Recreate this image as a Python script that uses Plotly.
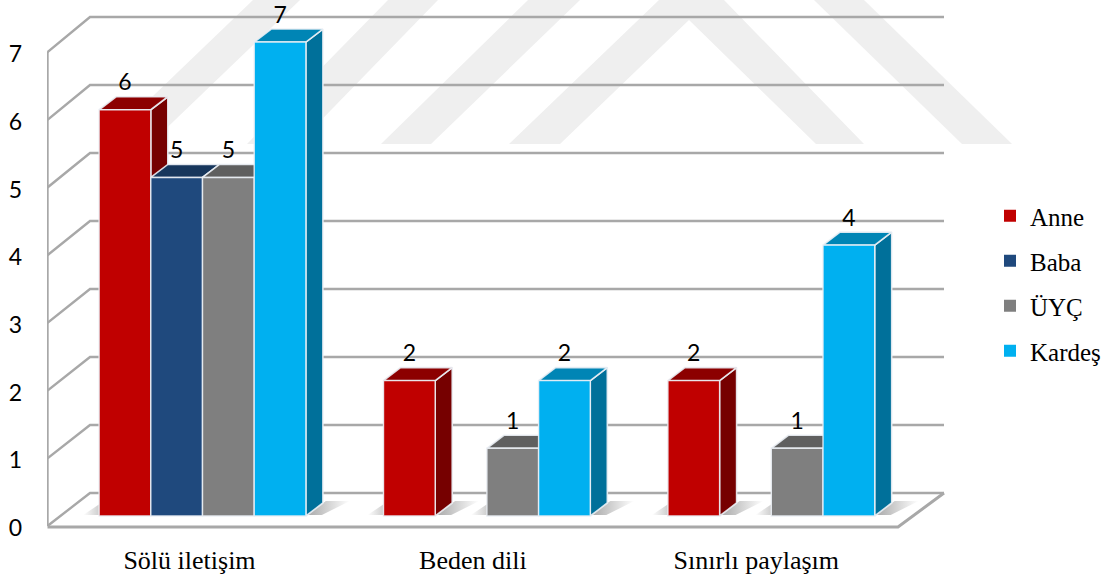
import plotly.graph_objects as go

categories = ["Sölü iletişim", "Beden dili", "Sınırlı paylaşım"]
series_names = ["Anne", "Baba", "ÜYÇ", "Kardeş"]
anne = [6, 2, 2]
baba = [5, None, None]
uyc = [5, 1, 1]
kardes = [7, 2, 4]
y_ticks = [0, 1, 2, 3, 4, 5, 6, 7]

series_values = [anne, baba, uyc, kardes]
front_cols = ["#C00000", "#1F497D", "#7F7F7F", "#00B0F0"]
side_cols = ["#760000", "#132D4E", "#4F4F4F", "#00709A"]
top_cols = ["#8C0000", "#17365C", "#5F5F5F", "#0085B5"]

# Layout geometry (pixels of the 1107x575 page)
W, H = 1107, 575
L, B = 47, 40
PLOT_BOTTOM = H - B
U = 67.71            # pixels per value unit
BAR_ZERO = 516       # pixel row of value 0 on the bar axis
LABEL_ZERO = 528     # pixel row of value 0 on the tick-label axis
STEP = 284.4
X0 = 202.5
BAR_W = 51.7
DEPTH_X, DEPTH_Y = 17, 13


def x_of(px):
    return (px - X0) / STEP


def y_of(py):
    return (LABEL_ZERO - py) / U


x_range = [x_of(L), x_of(W)]
y_range = [y_of(PLOT_BOTTOM), y_of(0)]
y2_range = [(BAR_ZERO - PLOT_BOTTOM) / U, BAR_ZERO / U]

traces = []
GRID = "#A8A8A8"


def poly(xs, ys, **kw):
    return go.Scatter(x=xs, y=ys, mode="lines", fill="toself", showlegend=False,
                      hoverinfo="skip", **kw)


# Walls and floor, derived from the tick values
FRONT_X, BACK_X, RIGHT_X = 47.5, 90, 944
for v in y_ticks:
    fy, by = 526 - 67.7 * v, 493 - 68 * v
    traces.append(go.Scatter(
        x=[x_of(FRONT_X), x_of(BACK_X), x_of(RIGHT_X)], y=[y_of(fy), y_of(by), y_of(by)],
        mode="lines", line=dict(color=GRID, width=2.4), showlegend=False, hoverinfo="skip"))
traces.append(go.Scatter(
    x=[x_of(FRONT_X), x_of(FRONT_X)], y=[y_of(526), y_of(526 - 67.7 * y_ticks[-1])],
    mode="lines", line=dict(color=GRID, width=2.4), showlegend=False, hoverinfo="skip"))
traces.append(go.Scatter(
    x=[x_of(FRONT_X), x_of(898), x_of(RIGHT_X)], y=[y_of(527), y_of(527), y_of(493)],
    mode="lines", line=dict(color=GRID, width=3), showlegend=False, hoverinfo="skip"))

# Faces: shadows first, then the side and top of every bar
for i in range(len(categories)):
    for j, vals in enumerate(series_values):
        v = vals[i]
        if v is None:
            continue
        left = X0 + STEP * i + (j - 2) * BAR_W
        right = left + BAR_W
        xs = [right + 1, right + 20, right + 44, right + 16]
        ys = [515, 501, 501, 515]
        traces.append(poly([x_of(a) for a in xs], [y_of(b) for b in ys],
                           line=dict(width=0),
                           fillgradient=dict(type="horizontal",
                                             colorscale=[[0, "#A8A8A8"], [1, "#FFFFFF"]])))
        xs = [left - 16, left + 2, left + 2]
        ys = [515, 503, 515]
        traces.append(poly([x_of(a) for a in xs], [y_of(b) for b in ys],
                           line=dict(width=0),
                           fillgradient=dict(type="horizontal",
                                             colorscale=[[0, "#FFFFFF"], [1, "#C8C8C8"]])))

for i in range(len(categories)):
    for j, vals in enumerate(series_values):
        v = vals[i]
        if v is None:
            continue
        left = X0 + STEP * i + (j - 2) * BAR_W
        right = left + BAR_W
        top = BAR_ZERO - U * v
        halo = dict(color="rgba(235,240,245,0.9)", width=1.6)
        traces.append(poly(
            [x_of(a) for a in [right, right + DEPTH_X, right + DEPTH_X, right, right]],
            [y_of(b) for b in [BAR_ZERO, BAR_ZERO - DEPTH_Y, top - DEPTH_Y, top, BAR_ZERO]],
            fillcolor=side_cols[j], line=halo))
        traces.append(poly(
            [x_of(a) for a in [left, left + DEPTH_X, right + DEPTH_X, right, left]],
            [y_of(b) for b in [top, top - DEPTH_Y, top - DEPTH_Y, top, top]],
            fillcolor=top_cols[j], line=halo))

# Legend entries
for name, col in zip(series_names, front_cols):
    traces.append(go.Scatter(x=[None], y=[None], mode="markers", name=name, legendgroup=name,
                             marker=dict(symbol="square", size=12, color=col)))

# Front faces of the bars (overlay axes, so they sit above the sides)
for j, vals in enumerate(series_values):
    traces.append(go.Bar(x=list(range(len(categories))), y=vals, xaxis="x2", yaxis="y2",
                         name=series_names[j], showlegend=False,
                         marker=dict(color=front_cols[j],
                                     line=dict(color="rgba(235,240,245,0.9)", width=1.4))))
    xs, ys, txt = [], [], []
    for i, v in enumerate(vals):
        if v is not None:
            xs.append(i + (j - 1.5) * BAR_W / STEP)
            ys.append(v + 25 / U)
            txt.append(str(v))
    traces.append(go.Scatter(x=xs, y=ys, text=txt, mode="text", xaxis="x2", yaxis="y2",
                             textposition="middle center", showlegend=False, hoverinfo="skip",
                             textfont=dict(family="Lato", size=23, color="#000000")))

# Watermark bands
WM = "#EFEFEF"
bands = [
    [(103, 144), (150, 144), (300, 0), (253, 0)],
    [(247, 144), (298, 144), (438, 0), (388, 0)],
    [(381, 144), (431, 144), (580, 0), (528, 0)],
    [(509, 144), (560, 144), (689, 20), (816, 144), (864, 144), (724, 0), (659, 0)],
    [(962, 144), (1012, 144), (864, 0), (814, 0)],
]
shapes = []
for b in bands:
    path = "M " + " L ".join(f"{x_of(px)},{y_of(py)}" for px, py in b) + " Z"
    shapes.append(dict(type="path", path=path, xref="x", yref="y", fillcolor=WM,
                       line=dict(width=0), layer="below"))

fig = go.Figure(traces)
fig.update_layout(
    width=W, height=H, autosize=False,
    margin=dict(l=L, r=0, t=0, b=B, pad=0),
    paper_bgcolor="#FFFFFF", plot_bgcolor="rgba(0,0,0,0)",
    shapes=shapes, barmode="group", bargap=1 - 4 * BAR_W / STEP, bargroupgap=0,
    font=dict(family="Liberation Serif", color="#000000"),
    xaxis=dict(range=x_range,
               tickvals=[i - (13 + i) / STEP for i in range(len(categories))],
               ticktext=categories, showgrid=False, zeroline=False, showline=False,
               ticks="", ticklabelstandoff=7,
               tickfont=dict(family="Liberation Serif", size=26, color="#000000")),
    yaxis=dict(range=y_range, tickvals=y_ticks, ticktext=[str(t) for t in y_ticks],
               showgrid=False, zeroline=False, showline=False, ticks="",
               ticklabelstandoff=24,
               tickfont=dict(family="Lato", size=23, color="#000000")),
    xaxis2=dict(range=x_range, overlaying="x", visible=False, anchor="y2"),
    yaxis2=dict(range=y2_range, overlaying="y", visible=False, anchor="x2"),
    legend=dict(x=(990 - L) / (W - L), xanchor="left", y=1 - 193 / PLOT_BOTTOM, yanchor="top",
                bgcolor="rgba(0,0,0,0)", tracegroupgap=9.5, itemsizing="trace",
                font=dict(family="Liberation Serif", size=25, color="#000000")),
)
fig.write_html("out.html", post_script="document.body.style.margin='0';",
               config={"displayModeBar": False})
